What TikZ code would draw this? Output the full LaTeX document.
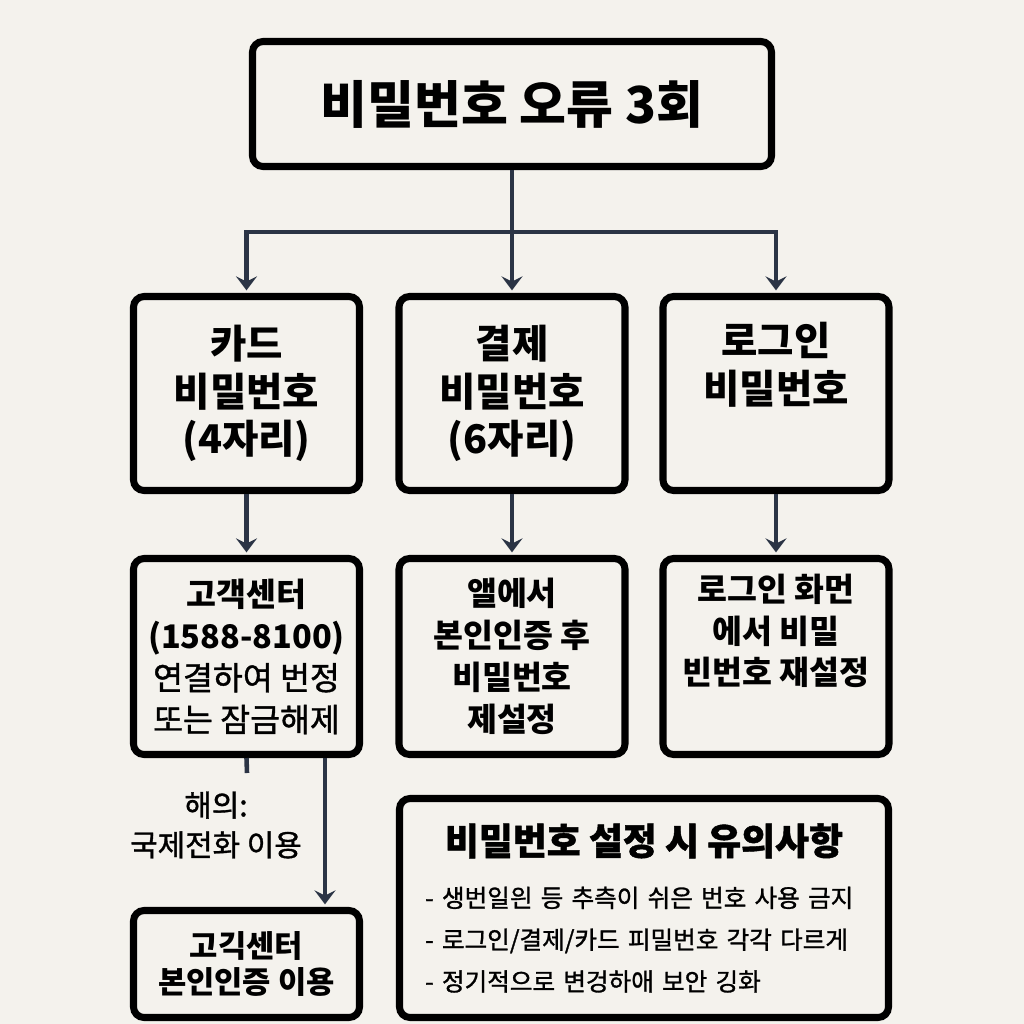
\documentclass[tikz,border=0pt]{standalone}
\usepackage{fontspec}
\setmainfont{Noto Sans CJK KR}
\newfontfamily\krmid{Noto Sans CJK KR}[FakeBold=1.2]
\usepackage{xcolor}
\usetikzlibrary{arrows.meta, positioning}
\definecolor{paper}{HTML}{F4F2ED}
\definecolor{wire}{HTML}{2B3445}

\begin{document}
\begin{tikzpicture}[
  font=\bfseries,
  box/.style={draw=black, line width=4pt, rounded corners=6pt,
              fill=paper, align=center, inner sep=0pt},
  head/.style={box, minimum width=4.52cm, minimum height=3.88cm,
               font=\fontsize{22.5}{27}\selectfont\bfseries},
  fix/.style={box, minimum width=4.52cm, minimum height=3.92cm,
              font=\fontsize{18.5}{23.8}\selectfont\bfseries},
  flow/.style={-{Stealth[length=8pt, width=12pt, inset=3pt]}, draw=wire,
               line width=2.6pt, shorten >=1.5pt},
  stub/.style={draw=wire, line width=2.6pt},
]
\fill[paper] (0,0) rectangle (20.48,-20.48);
\useasboundingbox (0,0) rectangle (20.48,-20.48);

\node[box, minimum width=10.38cm, minimum height=2.5cm,
      font=\fontsize{29}{34}\selectfont\bfseries] (alarm) at (10.24,-2.08)
  {비밀번호 오류 3회};

% three kinds of password
\node[head] (card)  at (4.93,-7.87)  {카드\\비밀번호\\(4자리)};
\node[head] (pay)   at (10.24,-7.87) {결제\\비밀번호\\(6자리)};
\node[head] (login) at (15.52,-7.87) {로그인\\비밀번호\\\strut};

% what to do
\node[fix] (cardfix)  at (4.93,-13.13)
  {고객센터\\(1588-8100)\\\mdseries\krmid 연결하여 번정\\\mdseries\krmid 또는 잠금해제};
\node[fix] (payfix)   at (10.24,-13.13) {앨에서\\본인인증 후\\비밀번호\\제설정};
\node[fix] (loginfix) at (15.52,-13.13) {로그인 화먼\\ 에서 비밀\\빈번호 재설정\\\strut};

\node[font=\fontsize{17}{22.7}\selectfont\mdseries\krmid, align=center] (abroad)
  at (4.32,-16.5) {해의:\\국제전화 이용};

\node[box, minimum width=4.52cm, minimum height=2.14cm,
      font=\fontsize{17.5}{20.5}\selectfont\bfseries] (desk) at (4.93,-19.28)
  {고긱센터\\본인인증 이용};

\node[box, minimum width=9.78cm, minimum height=4.38cm, align=left,
      text width=8.75cm, font=\fontsize{14}{23.8}\selectfont\mdseries\krmid] (tips)
  at (12.88,-18.16)
  {\makebox[8.75cm][c]{\fontsize{21}{24}\selectfont\bfseries 비밀번호 설정 시 유의사항}\\[6pt]
   - 생번일읜 등 추측이 쉬은 번호 사용 금지\\
   - 로그인/결제/카드 피밀번호 각각 다르게\\
   - 정기적으로 변겅하애 보안 깅화};

\coordinate (split) at (10.24,-4.64);
\coordinate (stubend) at (4.94,-15.46);
\coordinate (drop) at (6.5,0);

\draw[flow] (alarm.south) -- (split) -| (card.north);
\draw[flow] (split) -- (pay.north);
\draw[flow] (split) -| (login.north);

\draw[flow] (card.south) -- (cardfix.north);
\draw[flow] (pay.south) -- (payfix.north);
\draw[flow] (login.south) -- (loginfix.north);

\draw[stub] (cardfix.south) -- (stubend);
\draw[flow] (cardfix.south -| drop) -- (desk.north -| drop);

\end{tikzpicture}
\end{document}
